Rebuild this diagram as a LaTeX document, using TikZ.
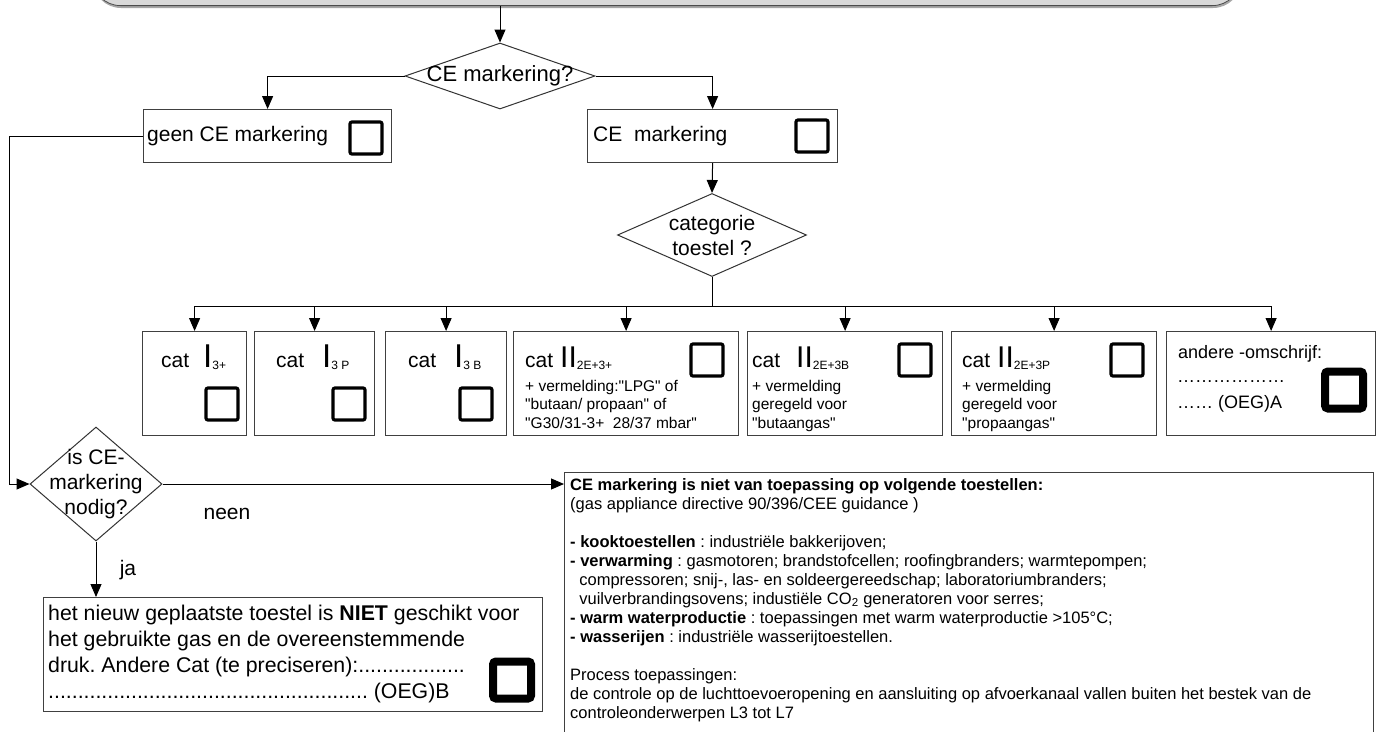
\documentclass[tikz,border=0pt]{standalone}
\usepackage{fontspec}
\setmainfont{Liberation Sans}
\usetikzlibrary{shapes.geometric,arrows.meta,calc}

\newcommand{\fsz}[2]{\fontsize{#1pt}{#2pt}\selectfont}
\newcommand{\dq}{\textquotedbl}
\frenchspacing

\begin{document}
\begin{tikzpicture}[x=1pt,y=-1pt,
  line/.style={draw=black, line width=1pt},
  arr/.style={line, -{Triangle[length=13pt,width=11pt]}},
  box/.style={draw=black!75, line width=1.2pt, anchor=north west, inner sep=0pt},
  chk/.style={draw=black, line width=3.2pt, rounded corners=2pt, minimum width=32pt, minimum height=32pt, inner sep=0pt},
  bigchk/.style={draw=black, line width=8pt, rounded corners=3pt, minimum width=38pt, minimum height=37pt, inner sep=0pt},
  dia/.style={diamond, draw=black!80, line width=1pt, inner sep=0pt},
  txt/.style={font=\fsz{21}{25}, inner sep=0pt},
  small/.style={font=\fsz{15.5}{18.5}, inner sep=0pt, align=left, anchor=north west},
  num/.style={inner sep=0pt, anchor=base west},
]
\useasboundingbox (0,0) rectangle (1380,731);
\fill[white] (0,0) rectangle (1380,731);

% start terminal (cut by the top edge)
\fill[gray!70, rounded corners=28pt] (93,-60) rectangle (1241,8);
\node[draw=black!70, fill=gray!30, rounded corners=28pt, line width=0.8pt,
      minimum width=1148pt, minimum height=64pt, anchor=south west, inner sep=0pt]
      (start) at (92,6) {};

% first decision
\node[dia, minimum width=190pt, minimum height=66pt] (d1) at (500,76) {};
\node[txt, font=\fsz{22}{25}] at (d1) {CE markering?};
\draw[arr] (d1.north |- start.south) -- (d1.north);

% first row of boxes
\node[box, minimum width=248pt, minimum height=53pt] (geen) at (143,109) {};
\node[txt, anchor=west] at ([xshift=4pt]geen.west) {geen CE markering};
\node[chk] (chkgeen) at (366,138) {};

\node[box, minimum width=250pt, minimum height=53pt] (ce) at (587,109) {};
\node[txt, anchor=west] at ([xshift=6pt]ce.west) {CE\ \ markering};
\node[chk] (chkce) at (812,136) {};

\draw[arr] (d1.west) -| (geen.north);
\draw[arr] (d1.east) -| (ce.north);

% category decision
\node[dia, minimum width=189pt, minimum height=83pt] (d2) at (712,235) {};
\node[txt, align=center] at (d2) {categorie\\toestel ?};
\draw[arr] (ce.south) -- (d2.north);

% category boxes
\node[box, minimum width=104pt, minimum height=104pt] (c1) at (142,331) {};
\node[box, minimum width=120pt, minimum height=104pt] (c2) at (254,331) {};
\node[box, minimum width=121pt, minimum height=104pt] (c3) at (385,331) {};
\node[box, minimum width=225pt, minimum height=104pt] (c4) at (513,331) {};
\node[box, minimum width=195pt, minimum height=104pt] (c5) at (747,331) {};
\node[box, minimum width=205pt, minimum height=104pt] (c6) at (951,331) {};
\node[box, minimum width=209pt, minimum height=104pt] (c7) at (1166,331) {};

\coordinate (bar) at (712,306);
\draw[line] (d2.south) -- (bar);
\draw[line] (c1.north |- bar) -- (c7.north |- bar);
\foreach \i in {1,...,7} \draw[arr] (c\i.north |- bar) -- (c\i.north);

% I3 categories
\node[num, font=\fsz{21}{25}] (c1cat) at (161,367) {cat};
\node[num] (c1num) at (203,367) {\fsz{33}{33}I\raisebox{-2pt}{\fsz{12}{12}3+}};
\node[chk] (c1chk) at (222,404) {};
\node[num, font=\fsz{21}{25}] (c2cat) at (276,367) {cat};
\node[num] (c2num) at (322,367) {\fsz{33}{33}I\raisebox{-2pt}{\fsz{12}{12}3 P}};
\node[chk] (c2chk) at (349,404) {};
\node[num, font=\fsz{21}{25}] (c3cat) at (408,367) {cat};
\node[num] (c3num) at (454,367) {\fsz{33}{33}I\raisebox{-2pt}{\fsz{12}{12}3 B}};
\node[chk] (c3chk) at (476,404) {};

% II categories
\node[num, font=\fsz{21}{25}] (c4cat) at (525,367) {cat};
\node[num] (c4num) at (560,367) {\fsz{30}{30}II\raisebox{-2pt}{\fsz{12}{12}2E+3+}};
\node[chk] (c4chk) at (707,360) {};
\node[small] (c4txt) at (525,380) {+ vermelding:\dq LPG\dq\ of\\\dq butaan/ propaan\dq\ of\\\dq G30/31-3+\ \ 28/37 mbar\dq};

\node[num, font=\fsz{21}{25}] (c5cat) at (752,367) {cat};
\node[num] (c5num) at (796,367) {\fsz{30}{30}II\raisebox{-2pt}{\fsz{12}{12}2E+3B}};
\node[chk] (c5chk) at (915,360) {};
\node[small] (c5txt) at (752,380) {+ vermelding\\geregeld voor\\\dq butaangas\dq};

\node[num, font=\fsz{21}{25}] (c6cat) at (962,367) {cat};
\node[num] (c6num) at (997,367) {\fsz{30}{30}II\raisebox{-2pt}{\fsz{12}{12}2E+3P}};
\node[chk] (c6chk) at (1127,360) {};
\node[small] (c6txt) at (962,380) {+ vermelding\\geregeld voor\\\dq propaangas\dq};

% other category
\node[num, font=\fsz{18}{20}] (c7a) at (1178,358) {andere -omschrijf:};
\node[num, font=\fsz{18}{20}] (c7b) at (1177,382) {………………};
\node[num, font=\fsz{18}{20}] (c7c) at (1177,408) {…… (OEG)A};
\node[bigchk] (c7chk) at (1344,390) {};

% CE required decision
\coordinate (lk) at (9,0);
\node[dia, minimum width=132pt, minimum height=114pt] (d3) at (96,484) {};
\node[txt, align=center] at (d3) {is CE-\\markering\\nodig?};
\draw[arr] (geen.west) -- (geen.west -| lk) |- (d3.west);

% exemptions box
\node[box, minimum width=809pt, minimum height=300pt] (nc) at (564,472) {};
\node[inner sep=0pt, anchor=north west, align=left, font=\fsz{16.5}{19}] (nctxt) at (570,478) {%
\textbf{CE markering is niet van toepassing op volgende toestellen:}\\
(gas appliance directive 90/396/CEE guidance )\\
\mbox{}\\
\textbf{- kooktoestellen} : industriële bakkerijoven;\\
\textbf{- verwarming} : gasmotoren; brandstofcellen; roofingbranders; warmtepompen;\\
\ \ compressoren; snij-, las- en soldeergereedschap; laboratoriumbranders;\\
\ \ vuilverbrandingsovens; industiële CO\textsubscript{2} generatoren voor serres;\\
\textbf{- warm waterproductie} : toepassingen met warm waterproductie >105°C;\\
\textbf{- wasserijen} : industriële wasserijtoestellen.\\
\mbox{}\\
Process toepassingen:\\
de controle op de luchttoevoeropening en aansluiting op afvoerkanaal vallen buiten het bestek van de\\
controleonderwerpen L3 tot L7};
\draw[arr] (d3.east) -- (d3.east -| nc.west);
\node[txt] (neen) at (227,514) {neen};

% not suitable box
\node[box, minimum width=499pt, minimum height=114pt] (nb) at (43,597) {};
\node[inner sep=0pt, anchor=north west, align=left, font=\fsz{21.3}{25.8}] (nbtxt) at (48,605) {%
het nieuw geplaatste toestel is \textbf{NIET} geschikt voor\\
het gebruikte gas en de overeenstemmende\\
druk. Andere Cat (te preciseren):..................\\
...................................................... (OEG)B};
\node[bigchk] (nbchk) at (512,680) {};
\draw[arr] (d3.south) -- (d3.south |- nb.north);
\node[txt] (ja) at (128,570) {ja};
\end{tikzpicture}
\end{document}
